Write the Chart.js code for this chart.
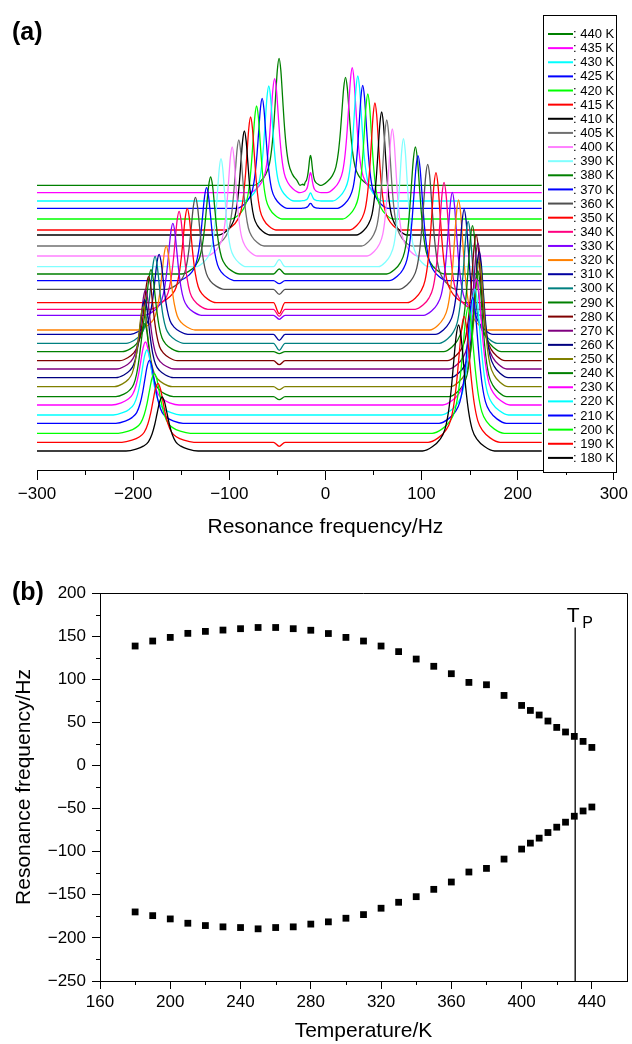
<!DOCTYPE html>
<html><head><meta charset="utf-8">
<script src="https://cdn.jsdelivr.net/npm/chart.js@4.4.1/dist/chart.umd.min.js"></script>
<style>
html,body{margin:0;padding:0;background:#fff;width:632px;height:1044px;overflow:hidden}
#c1{position:absolute;left:0;top:0}
#c2{position:absolute;left:0;top:560px}
</style></head><body>
<canvas id="c1" width="632" height="548"></canvas>
<canvas id="c2" width="632" height="484"></canvas>
<script>
// ---------- data ----------
const temps = [180,190,200,210,220,230,240,250,260,270,280,290,300,310,320,330,340,350,360,370,380,390,400,405,410,415,420,425,430,435,440];
const upperHz = [138.5,144.3,148.5,153.2,155.5,157,158.6,160,160,158.6,156.8,153,148.5,144.3,138.5,132,123.4,115,106.4,96.3,93.6,81.2,69.6,63.8,58.5,51.5,44.1,38.8,33.7,27.9,20.9];
const lowerHz = [-169.9,-174.2,-178,-183,-185.7,-187.2,-188,-189.5,-188,-187.2,-184,-181.4,-177.2,-173,-165.6,-158.7,-152.2,-143.7,-135.2,-123.6,-119.4,-108.6,-97,-90.1,-84.3,-77.8,-71.6,-65.8,-58.9,-52.8,-48.2];
const traceColors = ['#000000','#ff0000','#00ff00','#0000ff','#00ffff','#ff00ff','#008000','#808000','#000080','#800080','#800000','#008000','#008080','#0000a0','#ff8000','#8000ff','#ff0080','#ff0000','#505050','#0000ff','#008000','#80ffff','#ff80ff','#707070','#000000','#ff0000','#00ff00','#0000ff','#00ffff','#ff00ff','#008000'];
const baselines = [19,27.7,36.7,46.7,55,65,73.3,83.3,92.3,101,109.3,118.3,126.7,135.7,140,154.7,160.7,167.3,180.7,189.3,196,203.3,214,224,235,240,251,261.7,269,277.3,284.7];
const leftHeights = [54,59,60,63,65,63,73,80,78,79,84,82,87,80,84,92,98,94,92,93,97,108,109,106,104,113,113,110,115,114,127];
const rightHeights = [126,126,126,126,126,126,126,126,126,126,126,126,122,125,130,123,127,130,125,125,127,128,127,126,123,127,125,123,125,125,108];
const peakFwhm = [15,15,15,14,14,14,12,12,12,12,12,12,12,12,12,12,12,12,12,12,12,10.5,10.5,10.5,10.5,10.5,10.5,10.5,10.5,10.5,10.5];
const centerPeakHz = -15.5;
const centerPeakAmp = [0,0,0,0,0,0,0,0,0,0,0,0,0,0,0,0,0,0,0,0,0,0,0,0,0,0,0,5,8,20,30];
const glitchHz = -48;
const glitchAmp = [0,-4,0,0,0,0,-3,-3,0,0,-4,-2,-7,-6,0,-4,-7,-11,-5,-3,5,7,0,0,0,0,0,0,0,0,0];
// sampled line shape (offset in half-widths, relative height)
const shapeOffsets = [-5,-3.6,-2.6,-1.9,-1.4,-1,-0.7,-0.35,0,0.35,0.7,1,1.4,1.9,2.6,3.6,5];
const shapeHeights = [0,0.035,0.09,0.17,0.31,0.5,0.69,0.905,1,0.905,0.69,0.5,0.31,0.17,0.09,0.035,0];
const freqMin = -300, freqMax = 300, traceEnd = 225;
const tpTemp = 430.5, tpLineTop = 160;

const FONT = '"Liberation Sans", Arial, Helvetica, sans-serif';
const fmt = v => (v < 0 ? '\u2212' : '') + Math.abs(v);

function buildTrace(i) {
  const b = baselines[i];
  const pts = [{x: freqMin, y: b}, {x: traceEnd, y: b}];
  const addPeak = (pos, h, hw) => {
    shapeOffsets.forEach((o, k) => pts.push({x: pos + o * hw, y: b + h * shapeHeights[k]}));
  };
  const hw = peakFwhm[i] / 2;
  addPeak(lowerHz[i], leftHeights[i], hw);
  addPeak(upperHz[i], rightHeights[i], hw);
  if (centerPeakAmp[i]) addPeak(centerPeakHz, centerPeakAmp[i], 2.2);
  if (glitchAmp[i]) {
    pts.push({x: glitchHz - 6, y: b}, {x: glitchHz, y: b + glitchAmp[i]}, {x: glitchHz + 6, y: b});
  }
  pts.sort((a, c) => a.x - c.x);
  return pts;
}

// ---------- panel (a) ----------
const panelA = {
  id: 'panelA',
  afterDraw(chart) {
    const ctx = chart.ctx, xs = chart.scales.x, bottom = chart.chartArea.bottom;
    ctx.save();
    ctx.strokeStyle = '#000'; ctx.lineWidth = 1;
    for (let v = -250; v <= 250; v += 100) {
      const px = Math.round(xs.getPixelForValue(v)) + 0.5;
      ctx.beginPath(); ctx.moveTo(px, bottom); ctx.lineTo(px, bottom + 5); ctx.stroke();
    }
    // legend box
    ctx.fillStyle = '#fff';
    ctx.fillRect(543.5, 15.5, 73, 457);
    ctx.strokeRect(543.5, 15.5, 73, 457);
    ctx.font = '13px ' + FONT;
    ctx.textBaseline = 'middle'; ctx.textAlign = 'left';
    chart.data.datasets.slice().reverse().forEach((ds, k) => {
      const y = 34 + k * 14.13;
      ctx.strokeStyle = ds.borderColor; ctx.lineWidth = 2;
      ctx.beginPath(); ctx.moveTo(548, y); ctx.lineTo(573, y); ctx.stroke();
      ctx.fillStyle = '#000';
      ctx.fillText(': ' + ds.label, 573, y + 0.5);
    });
    ctx.font = 'bold 25px ' + FONT;
    ctx.textBaseline = 'alphabetic';
    ctx.fillText('(a)', 12, 40);
    ctx.restore();
  }
};

new Chart(document.getElementById('c1'), {
  type: 'line',
  data: {
    datasets: temps.map((t, i) => ({
      label: t + ' K', data: buildTrace(i), borderColor: traceColors[i],
      borderWidth: 1.3, pointRadius: 0, fill: false, cubicInterpolationMode: 'monotone'
    }))
  },
  options: {
    responsive: false, animation: false, devicePixelRatio: 1,
    layout: {padding: {left: 37, right: 17, top: 14, bottom: 0}},
    plugins: {legend: {display: false}, tooltip: {enabled: false}},
    scales: {
      x: {
        type: 'linear', min: freqMin, max: freqMax,
        afterFit(s) { s.height = 78; },
        ticks: {stepSize: 100, color: '#000', font: {size: 17, family: FONT}, padding: 4, maxRotation: 0, callback: v => fmt(v)},
        grid: {drawOnChartArea: false, drawTicks: true, tickLength: 10, color: '#000', tickWidth: 1},
        border: {display: true, color: '#000', width: 1},
        title: {display: true, text: 'Resonance frequency/Hz', color: '#000', font: {size: 21, family: FONT}, padding: {top: 0, bottom: 8}}
      },
      y: {type: 'linear', display: false, min: 0, max: 456}
    }
  },
  plugins: [panelA]
});

// ---------- panel (b) ----------
const panelB = {
  id: 'panelB',
  afterDraw(chart) {
    const ctx = chart.ctx, a = chart.chartArea, xs = chart.scales.x, ys = chart.scales.y;
    ctx.save();
    ctx.strokeStyle = '#000'; ctx.lineWidth = 1;
    ctx.beginPath();
    ctx.moveTo(a.left, Math.round(a.top) + 0.5); ctx.lineTo(Math.round(a.right) + 0.5, Math.round(a.top) + 0.5);
    ctx.lineTo(Math.round(a.right) + 0.5, a.bottom); ctx.stroke();
    for (let v = 180; v <= 420; v += 40) {
      const px = Math.round(xs.getPixelForValue(v)) + 0.5;
      ctx.beginPath(); ctx.moveTo(px, a.bottom); ctx.lineTo(px, a.bottom + 4); ctx.stroke();
    }
    for (let v = -225; v <= 175; v += 50) {
      const py = Math.round(ys.getPixelForValue(v)) + 0.5;
      ctx.beginPath(); ctx.moveTo(a.left, py); ctx.lineTo(a.left - 4, py); ctx.stroke();
    }
    const tx = xs.getPixelForValue(tpTemp);
    ctx.fillStyle = '#000';
    ctx.textBaseline = 'alphabetic';
    ctx.font = '21px ' + FONT; ctx.textAlign = 'center';
    ctx.fillText('T', tx - 2, 62);
    ctx.font = '16px ' + FONT; ctx.textAlign = 'left';
    ctx.fillText('P', tx + 7, 68);
    ctx.font = 'bold 25px ' + FONT;
    ctx.fillText('(b)', 12, 40);
    ctx.restore();
  }
};

const pointStyleOpts = {pointStyle: 'rect', pointRadius: 4.8, pointBackgroundColor: '#000', pointBorderColor: '#000', pointBorderWidth: 0, showLine: false};
new Chart(document.getElementById('c2'), {
  type: 'scatter',
  data: {
    datasets: [
      Object.assign({label: 'upper', data: temps.map((t, i) => ({x: t, y: upperHz[i]}))}, pointStyleOpts),
      Object.assign({label: 'lower', data: temps.map((t, i) => ({x: t, y: lowerHz[i]}))}, pointStyleOpts),
      {label: 'Tp', data: [{x: tpTemp, y: tpLineTop}, {x: tpTemp, y: -250}], showLine: true, borderColor: '#000', borderWidth: 1.3, pointRadius: 0}
    ]
  },
  options: {
    responsive: false, animation: false, devicePixelRatio: 1,
    layout: {padding: {left: 0, right: 5, top: 33, bottom: 0}},
    plugins: {legend: {display: false}, tooltip: {enabled: false}},
    scales: {
      x: {
        type: 'linear', min: 160, max: 460,
        afterFit(s) { s.height = 63; },
        ticks: {stepSize: 40, includeBounds: false, color: '#000', font: {size: 17, family: FONT}, padding: 3, maxRotation: 0},
        grid: {drawOnChartArea: false, drawTicks: true, tickLength: 8, color: '#000', tickWidth: 1},
        border: {display: true, color: '#000', width: 1},
        title: {display: true, text: 'Temperature/K', color: '#000', font: {size: 21, family: FONT}, padding: {top: 0, bottom: 0}}
      },
      y: {
        type: 'linear', min: -250, max: 200,
        afterFit(s) { s.width = 100; },
        ticks: {stepSize: 50, color: '#000', font: {size: 17, family: FONT}, padding: 6, callback: v => fmt(v)},
        grid: {drawOnChartArea: false, drawTicks: true, tickLength: 8, color: '#000', tickWidth: 1},
        border: {display: true, color: '#000', width: 1},
        title: {display: true, text: 'Resonance frequency/Hz', color: '#000', font: {size: 21, family: FONT}, padding: {top: 12, bottom: 0}}
      }
    }
  },
  plugins: [panelB]
});
</script>
</body></html>
